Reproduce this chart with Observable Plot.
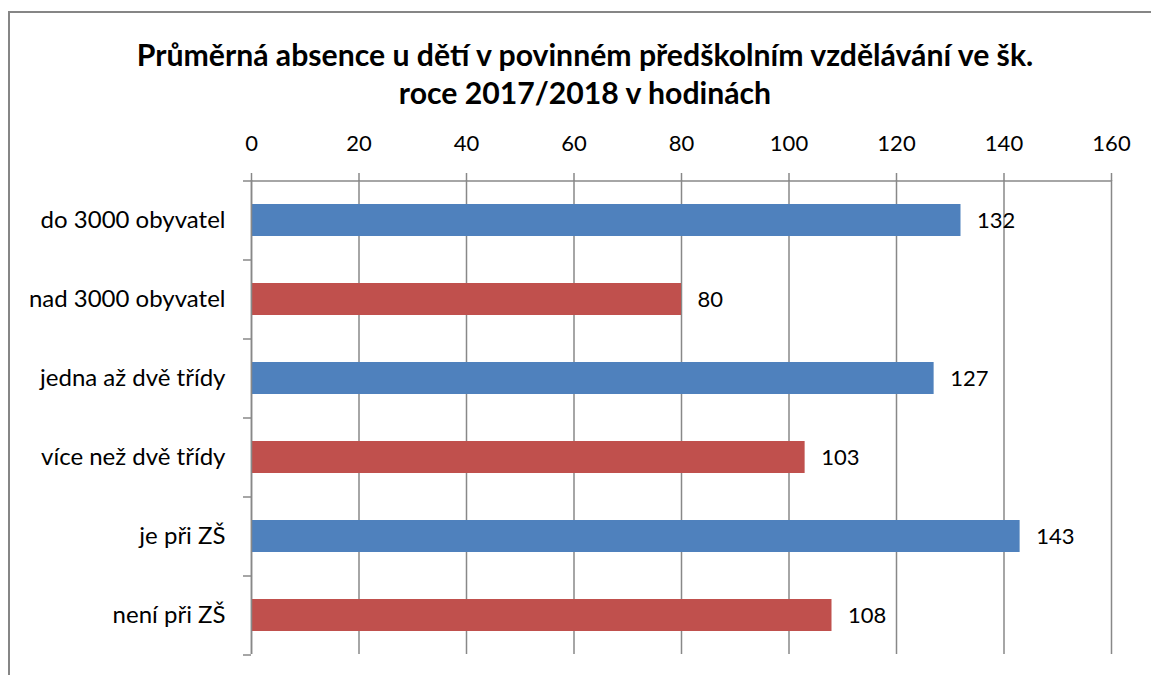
<!DOCTYPE html>
<html>
<head>
<meta charset="utf-8">
<script src="https://cdn.jsdelivr.net/npm/d3@7"></script>
<script src="https://cdn.jsdelivr.net/npm/@observablehq/plot@0.6"></script>
<style>
  html, body { margin: 0; padding: 0; background: #fff; overflow: hidden; }
  #frame { position: absolute; left: 8px; top: 11px; width: 1200px; height: 700px;
           border-top: 2px solid #868686; border-left: 2px solid #868686; }
  #title { position: absolute; left: 20px; width: 1130px; top: 35px; text-align: center;
           font-family: Lato, "Open Sans", sans-serif; font-weight: bold; font-size: 30.2px;
           line-height: 38px; color: #000; }
  #chart { position: absolute; left: 0; top: 120px; }
</style>
</head>
<body>
<div id="frame"></div>
<div id="title">Průměrná absence u dětí v povinném předškolním vzdělávání ve šk.<br>roce 2017/2018 v hodinách</div>
<div id="chart"></div>
<script>
const categories = ["do 3000 obyvatel", "nad 3000 obyvatel", "jedna až dvě třídy", "více než dvě třídy", "je při ZŠ", "není při ZŠ"];
const values = [132, 80, 127, 103, 143, 108];
const series = ["A", "B", "A", "B", "A", "B"];
const seriesColors = ["#4F81BD", "#C0504D"];
const xTicks = [0, 20, 40, 60, 80, 100, 120, 140, 160];

const data = categories.map((c, i) => ({category: c, value: values[i], series: series[i]}));

const W = 1151, H = 555, MT = 60, MB = 21, ML = 251, MR = 40;
const step = (H - MT - MB) / categories.length;
const grey = "#888888";

const chart = Plot.plot({
  width: W, height: H,
  marginTop: MT, marginBottom: MB, marginLeft: ML, marginRight: MR,
  style: {fontFamily: "Lato, 'Open Sans', sans-serif", fontSize: "22px", color: "#000", background: "transparent"},
  x: {domain: [0, 160], ticks: xTicks},
  y: {domain: categories, paddingInner: 0.6, paddingOuter: 0.3},
  color: {domain: ["A", "B"], range: seriesColors},
  marks: [
    Plot.gridX(xTicks, {stroke: grey, strokeOpacity: 1, strokeWidth: 1.5}),
    Plot.axisX({anchor: "top", ticks: xTicks, tickSize: 8, tickPadding: 22, stroke: grey, strokeWidth: 1.5, fill: "#000", fontSize: 22, label: null}),
    Plot.ruleY([categories[0]], {y: d => d, dy: -step / 2, x1: 0, x2: 160, insetLeft: -8, stroke: grey, strokeWidth: 1.5}),
    Plot.ruleY(categories, {y: d => d, dy: step / 2, x1: 0, x2: 0, insetLeft: -8, stroke: grey, strokeWidth: 1.5}),
    Plot.barX(data, {x: "value", y: "category", fill: "series"}),
    Plot.ruleX([0], {stroke: grey, strokeWidth: 1.5}),
    Plot.axisY({tickSize: 0, tickPadding: 26, fill: "#000", fontSize: 24, label: null}),
    Plot.text(data, {x: "value", y: "category", text: d => String(d.value), textAnchor: "start", dx: 16, fontSize: 22, fill: "#000"})
  ]
});
document.getElementById("chart").appendChild(chart);
</script>
</body>
</html>
